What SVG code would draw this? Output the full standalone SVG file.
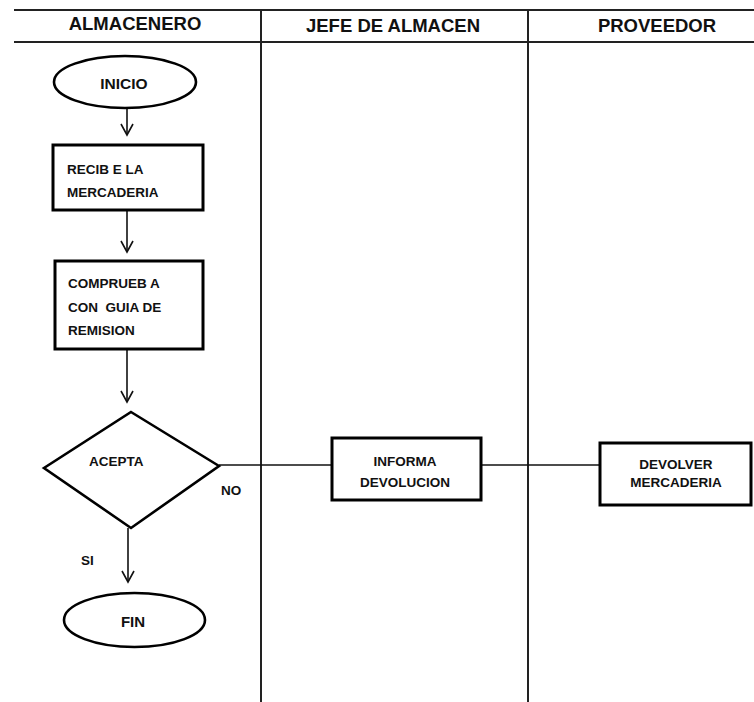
<svg xmlns="http://www.w3.org/2000/svg" width="754" height="702" viewBox="0 0 754 702">
  <style>
    text { font-family: "Liberation Sans", Arial, sans-serif; font-weight: bold; fill: #111; }
    .hdr { font-size: 18.5px; text-anchor: middle; }
    .lbl { font-size: 13.5px; }
    .mid { text-anchor: middle; }
    .lane { stroke: #222; stroke-width: 2; fill: none; }
    .box { stroke: #000; stroke-width: 3; fill: #fff; }
    .term { stroke: #000; stroke-width: 2.6; fill: #fff; }
    .flow { stroke: #111; stroke-width: 1.6; fill: none; }
    .head { stroke: #111; stroke-width: 1.6; fill: none; stroke-linejoin: miter; }
  </style>
  <defs>
    <!-- open V arrowhead, drawn along +x so orient="auto" follows the line -->
    <marker id="vhead" viewBox="0 0 14 14" refX="12" refY="7" markerWidth="14" markerHeight="14" markerUnits="userSpaceOnUse" orient="auto">
      <path d="M1,1 L12,7 L1,13" class="head"/>
    </marker>
  </defs>
  <rect width="754" height="702" fill="#fff"/>

  <!-- swimlane frame -->
  <g id="lanes">
    <line class="lane" x1="14" y1="10" x2="754" y2="10"/>
    <line class="lane" x1="14" y1="42" x2="754" y2="42"/>
    <line class="lane" x1="261" y1="10" x2="261" y2="702"/>
    <line class="lane" x1="528" y1="10" x2="528" y2="702"/>
    <text class="hdr" x="135" y="30">ALMACENERO</text>
    <text class="hdr" x="393" y="32">JEFE DE ALMACEN</text>
    <text class="hdr" x="657" y="32">PROVEEDOR</text>
  </g>

  <!-- connectors -->
  <g id="connectors">
    <line class="flow" x1="127" y1="108" x2="127" y2="135" marker-end="url(#vhead)"/>
    <line class="flow" x1="127" y1="210" x2="127" y2="252" marker-end="url(#vhead)"/>
    <line class="flow" x1="127" y1="349" x2="127" y2="402" marker-end="url(#vhead)"/>
    <line class="flow" x1="128" y1="528" x2="128" y2="582" marker-end="url(#vhead)"/>
    <line class="flow" x1="219" y1="465" x2="332" y2="465"/>
    <line class="flow" x1="481" y1="465" x2="600" y2="465"/>
    <text class="lbl" x="221" y="495" font-size="13">NO</text>
    <text class="lbl" x="81" y="565">SI</text>
  </g>

  <g id="inicio">
    <ellipse class="term" cx="125" cy="82" rx="71" ry="26"/>
    <text class="mid" x="124" y="89" font-size="15.5">INICIO</text>
  </g>

  <g id="recibe">
    <rect class="box" x="53" y="145" width="150" height="65"/>
    <text class="lbl" x="67" y="174">RECIB E LA</text>
    <text class="lbl" x="67" y="197">MERCADERIA</text>
  </g>

  <g id="comprueba">
    <rect class="box" x="55" y="261" width="148" height="88"/>
    <text class="lbl" x="68" y="288">COMPRUEB A</text>
    <text class="lbl" x="68" y="312" xml:space="preserve">CON  GUIA DE</text>
    <text class="lbl" x="68" y="335">REMISION</text>
  </g>

  <g id="acepta">
    <polygon class="term" points="131,412 219,466 131,528 44,468"/>
    <text class="lbl" x="89" y="466" font-size="14">ACEPTA</text>
  </g>

  <g id="fin">
    <ellipse class="term" cx="134.5" cy="620" rx="70.5" ry="27"/>
    <text class="mid" x="133" y="627" font-size="15">FIN</text>
  </g>

  <g id="informa">
    <rect class="box" x="332" y="438" width="149" height="62"/>
    <text class="lbl mid" x="405" y="466" font-size="13">INFORMA</text>
    <text class="lbl mid" x="405" y="487" font-size="13">DEVOLUCION</text>
  </g>

  <g id="devolver">
    <rect class="box" x="600" y="443" width="151" height="62"/>
    <text class="lbl mid" x="676" y="469" font-size="13">DEVOLVER</text>
    <text class="lbl mid" x="676" y="487" font-size="13">MERCADERIA</text>
  </g>
</svg>
